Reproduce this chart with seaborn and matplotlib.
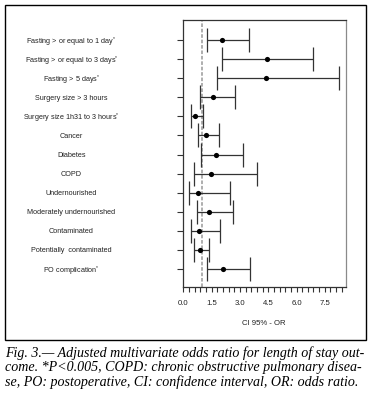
import numpy as np
import pandas as pd
import matplotlib
matplotlib.use("Agg")
import matplotlib.pyplot as plt
import seaborn as sns
from matplotlib.ticker import MultipleLocator
from matplotlib.patches import Rectangle

# Data (odds ratio and 95% CI per factor)
labels = ["Fasting > or equal to 1 day", "Fasting > or equal to 3 days",
          "Fasting > 5 days", "Surgery size > 3 hours",
          "Surgery size 1h31 to 3 hours", "Cancer", "Diabetes", "COPD",
          "Undernourished", "Moderately undernourished", "Contaminated",
          "Potentially  contaminated", "PO complication"]
significant = [True, True, True, False, True, False, False, False,
               False, False, False, False, True]
odds_ratio = [2.07, 4.43, 4.39, 1.55, 0.62, 1.20, 1.73, 1.48, 0.79, 1.36, 0.83, 0.88, 2.12]
ci_low = [1.27, 2.06, 1.80, 0.86, 0.39, 0.79, 0.92, 0.58, 0.30, 0.70, 0.39, 0.58, 1.27]
ci_high = [3.49, 6.90, 8.27, 2.73, 1.02, 1.89, 3.14, 3.90, 2.45, 2.61, 1.96, 1.34, 3.54]
x_ticks = [0.0, 1.5, 3.0, 4.5, 6.0, 7.5]

df = pd.DataFrame({"label": labels, "OR": odds_ratio, "lo": ci_low, "hi": ci_high})
df["row"] = np.arange(len(df))

sns.set_style("white")
plt.rcParams["font.family"] = ["Liberation Sans", "DejaVu Sans"]
plt.rcParams["mathtext.fontset"] = "custom"
plt.rcParams["mathtext.rm"] = "Liberation Sans"

fig = plt.figure(figsize=(3.72, 4.04), dpi=100)
ax = fig.add_axes([0.4906, 0.2896, 0.4382, 0.661])

line_col = "#333333"
txt_col = "#222222"
fs = 5.2

# CI bars with end caps, then the point estimates
ax.errorbar(df["OR"], df["row"],
            xerr=[df["OR"] - df["lo"], df["hi"] - df["OR"]],
            fmt="none", ecolor=line_col, elinewidth=0.9, capsize=8.6, capthick=0.9)
sns.scatterplot(data=df, x="OR", y="row", ax=ax, color="black", s=14,
                edgecolor="black", linewidth=0, zorder=3, legend=False)

# reference line at OR = 1
ax.axvline(1.0, color="#a8a8a8", lw=1.3, ls=(0, (2, 1)), zorder=1)

ax.set_xlim(-0.05, 8.6)
ax.set_ylim(12.94, -1.05)
ax.set_xticks(x_ticks)
ax.set_xticklabels([f"{v:.1f}" for v in x_ticks])
ax.xaxis.set_minor_locator(MultipleLocator(0.3))

ytick_labels = [lab + ("$^{*}$" if s else "") for lab, s in zip(labels, significant)]
ax.set_yticks(df["row"])
ax.set_yticklabels(ytick_labels)
for t in ax.get_yticklabels():
    t.set_ha("center")

ax.tick_params(axis="y", which="major", direction="out", length=4, width=0.8,
               color=line_col, pad=76, labelsize=fs, labelcolor=txt_col, left=True)
ax.tick_params(axis="x", which="both", direction="out", length=3.5, width=0.8,
               color=line_col, pad=6, labelsize=fs + 0.4, labelcolor=txt_col, bottom=True)

ax.set_xlabel("CI 95% - OR", fontsize=fs + 0.4, color=txt_col, labelpad=9)
ax.set_ylabel("")

for side in ["left", "bottom", "top"]:
    ax.spines[side].set_color(line_col)
    ax.spines[side].set_linewidth(0.9)
ax.spines["right"].set_color("#8a8a8a")
ax.spines["right"].set_linewidth(0.9)
ax.grid(False)

# frame around the figure panel
fig.patches.append(Rectangle((5 / 372, 1 - 340 / 404), 361 / 372, 335 / 404,
                             transform=fig.transFigure, fill=False,
                             edgecolor="black", linewidth=1.0))

caption = ["Fig. 3.\u2014 Adjusted multivariate odds ratio for length of stay out-",
           "come. *P<0.005, COPD: chronic obstructive pulmonary disea-",
           "se, PO: postoperative, CI: confidence interval, OR: odds ratio."]
for i, line in enumerate(caption):
    fig.text(5 / 372, 1 - (353 + 14.5 * i) / 404, line, family="Liberation Serif",
             style="italic", fontsize=10.1, va="center", ha="left", color="black")

fig.savefig("out.png", dpi=100)
